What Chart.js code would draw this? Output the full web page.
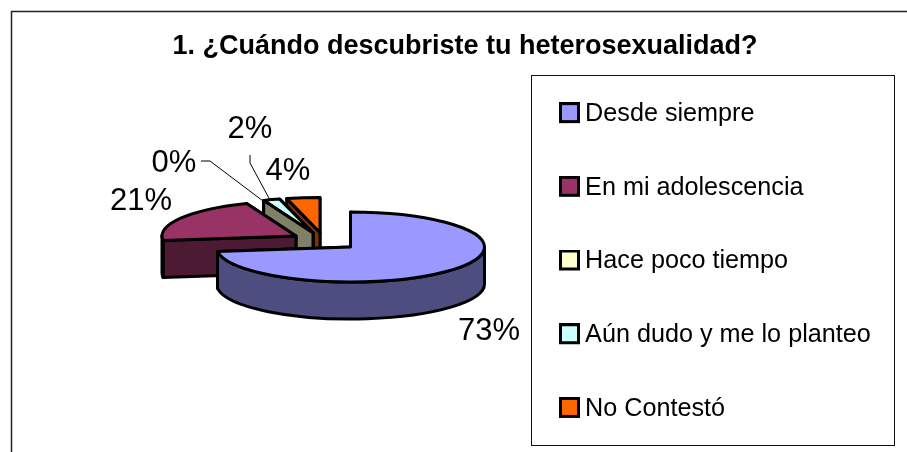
<!DOCTYPE html>
<html>
<head>
<meta charset="utf-8">
<script src="https://cdn.jsdelivr.net/npm/chart.js@4"></script>
<style>html,body{margin:0;padding:0;background:#fff}#w{position:relative;width:907px;height:452px}canvas{display:block}</style>
</head>
<body>
<div id="w"><canvas id="c" width="907" height="452"></canvas></div>
<script>
const titleText = '1. ¿Cuándo descubriste tu heterosexualidad?';
const categories = ['Desde siempre', 'En mi adolescencia', 'Hace poco tiempo', 'Aún dudo y me lo planteo', 'No Contestó'];
const values = [73, 21, 0, 2, 4];
const topColors = ['#9999FF', '#993366', '#FFFFCC', '#CCFFFF', '#FF6600'];
const wallColors = ['#4D4D80', '#4D1A33', '#808066', '#668080', '#803300'];
const explode = [[0.5, 0], [-54, -11], [-37, -14], [-37, -14], [-30, -14.5]];
const valueLabelPos = [[489, 331], [141, 201], [174, 163], [250, 129], [288, 171]];
const leaders = [null, null, [[201, 161], [210, 161], [263, 201]], [[250, 155], [250, 163], [270, 200]], null];
const drawOrder = [4, 3, 2, 1, 0];

const PIE = { x: 350, y: 247, rx: 134, ry: 35, depth: 37 };
const FONT = '"Liberation Sans", Arial, sans-serif';

function swatch(color) {
  const c = document.createElement('canvas');
  c.width = 21; c.height = 24;
  const g = c.getContext('2d');
  g.fillStyle = color; g.fillRect(0, 0, 21, 21);
  g.strokeStyle = '#000'; g.lineWidth = 3; g.strokeRect(1.5, 1.5, 18, 18);
  return c;
}

function pt(cx, cy, a) {
  return [cx + PIE.rx * Math.cos(a), cy + PIE.ry * Math.sin(a)];
}

function drawSlice(ctx, arc, i) {
  const cx = PIE.x + explode[i][0], cy = PIE.y + explode[i][1], d = PIE.depth;
  const a0 = arc.startAngle, a1 = arc.endAngle;
  ctx.lineWidth = 3; ctx.strokeStyle = '#000'; ctx.lineJoin = 'round';
  ctx.fillStyle = wallColors[i];
  // radial walls: the far one first, so the near one stays on top
  [a1, a0].forEach(a => {
    const p = pt(cx, cy, a);
    ctx.beginPath();
    ctx.moveTo(cx, cy); ctx.lineTo(p[0], p[1]); ctx.lineTo(p[0], p[1] + d); ctx.lineTo(cx, cy + d);
    ctx.closePath(); ctx.fill(); ctx.stroke();
  });
  // outer wall, front half only
  const f0 = Math.max(a0, 0), f1 = Math.min(a1, Math.PI);
  if (f1 > f0) {
    ctx.beginPath();
    ctx.ellipse(cx, cy, PIE.rx, PIE.ry, 0, f0, f1, false);
    ctx.ellipse(cx, cy + d, PIE.rx, PIE.ry, 0, f1, f0, true);
    ctx.closePath(); ctx.fill(); ctx.stroke();
  }
  // top face
  if (a1 > a0) {
    ctx.fillStyle = topColors[i];
    ctx.beginPath();
    ctx.moveTo(cx, cy);
    ctx.ellipse(cx, cy, PIE.rx, PIE.ry, 0, a0, a1, false);
    ctx.closePath(); ctx.fill(); ctx.stroke();
  }
}

const pie3d = {
  id: 'pie3d',
  afterLayout(chart) {
    const l = chart.legend, t = chart.titleBlock;
    l.left = 518; l.right = 907; l.top = 53; l.bottom = 520;
    t.left = 0; t.right = 930; t.top = 30; t.bottom = 64;
  },
  beforeDraw(chart) {
    const ctx = chart.ctx;
    ctx.save();
    ctx.fillStyle = '#fff'; ctx.fillRect(0, 0, 907, 452);
    ctx.strokeStyle = '#222'; ctx.lineWidth = 1.5;
    ctx.beginPath(); ctx.moveTo(11.5, 452); ctx.lineTo(11.5, 11.5); ctx.lineTo(907, 11.5); ctx.stroke();
    ctx.strokeStyle = '#111'; ctx.lineWidth = 1;
    ctx.strokeRect(531.5, 75.5, 363, 370);
    ctx.restore();
  },
  beforeDatasetDraw(chart, args) {
    const ctx = chart.ctx, arcs = args.meta.data;
    ctx.save();
    drawOrder.forEach(i => drawSlice(ctx, arcs[i], i));
    ctx.lineWidth = 1; ctx.strokeStyle = '#000';
    leaders.forEach(line => {
      if (!line) return;
      ctx.beginPath();
      line.forEach((p, j) => j ? ctx.lineTo(p[0], p[1]) : ctx.moveTo(p[0], p[1]));
      ctx.stroke();
    });
    ctx.fillStyle = '#000';
    ctx.font = '31px ' + FONT;
    ctx.textAlign = 'center'; ctx.textBaseline = 'middle';
    values.forEach((v, i) => ctx.fillText(v + '%', valueLabelPos[i][0], valueLabelPos[i][1]));
    ctx.restore();
    return false;
  }
};

new Chart(document.getElementById('c'), {
  type: 'pie',
  data: {
    labels: categories,
    datasets: [{ data: values, backgroundColor: topColors, borderColor: '#000', borderWidth: 3, radius: PIE.rx }]
  },
  plugins: [pie3d],
  options: {
    responsive: false,
    animation: false,
    layout: { padding: 0 },
    plugins: {
      tooltip: { enabled: false },
      title: {
        display: true, text: titleText, color: '#000', align: 'center', padding: 0,
        font: { family: FONT, size: 27, weight: 'bold' }
      },
      legend: {
        display: true, position: 'right', align: 'start',
        labels: {
          color: '#000', padding: 48.5, usePointStyle: true, pointStyleWidth: 6,
          font: { family: FONT, size: 25.2 },
          generateLabels: () => categories.map((t, i) => ({
            text: t, pointStyle: swatch(topColors[i]), fillStyle: topColors[i],
            strokeStyle: '#000', lineWidth: 3, hidden: false, index: i
          }))
        }
      }
    }
  }
});
</script>
</body>
</html>
